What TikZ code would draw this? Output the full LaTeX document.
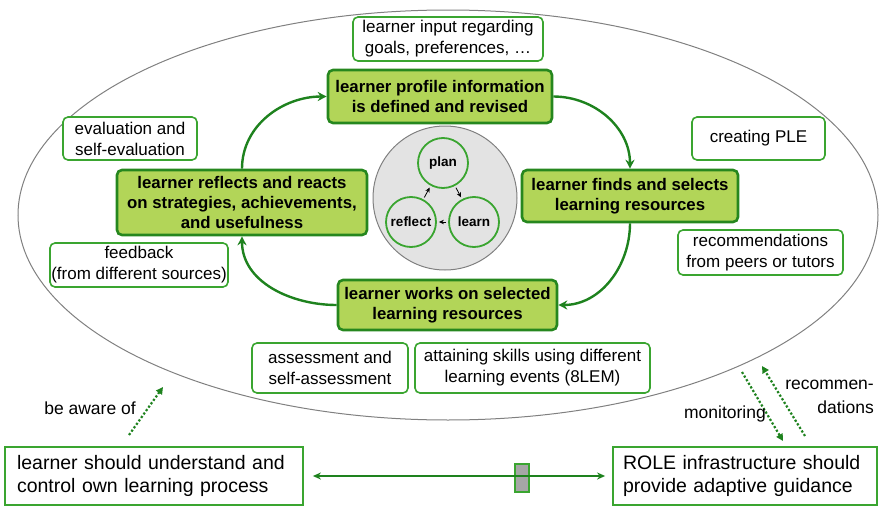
\documentclass[tikz,border=0pt]{standalone}
\usepackage{fontspec}
\setmainfont{Liberation Sans}
\usetikzlibrary{arrows.meta}
\definecolor{dgreen}{RGB}{38,135,30}
\definecolor{lgreen}{RGB}{178,213,88}
\definecolor{mgreen}{RGB}{58,165,48}
\definecolor{agreen}{RGB}{30,130,30}
\tikzset{
  bigbox/.style={draw=dgreen, line width=2.6pt, fill=lgreen, rounded corners=5pt, align=center, inner sep=0pt, font=\bfseries\fontsize{16.8}{20}\selectfont},
  smallbox/.style={draw=mgreen, line width=1.6pt, fill=white, rounded corners=5pt, align=center, inner sep=0pt, font=\fontsize{17}{21}\selectfont},
  sqbox/.style={draw=mgreen, line width=1.8pt, fill=white, align=left, inner sep=0pt, font=\fontsize{19.5}{23.5}\selectfont},
  cyc/.style={draw=mgreen, line width=1.8pt, circle, minimum size=50pt, inner sep=0pt, font=\bfseries\fontsize{13.5}{15}\selectfont},
  cycarrow/.style={draw=agreen, line width=2.4pt, -{Stealth[length=9pt,width=9pt]}},
  dotarrow/.style={draw=agreen, line width=2.2pt, dotted, -{Triangle[length=7pt,width=7pt]}},
  lbl/.style={font=\fontsize{17.5}{26}\selectfont, inner sep=0pt},
}
\begin{document}
\begin{tikzpicture}[x=1pt,y=-1pt]
\useasboundingbox (0,0) rectangle (879,506);
% big ellipse
\draw[gray, line width=1pt] (448,215) ellipse [x radius=430pt, y radius=205pt];
% central circle
\node[circle, draw=gray, fill=gray!22, line width=1pt, minimum size=144pt, inner sep=0pt] (core) at (445,198) {};
\node[cyc] (plan) at (443,163) {plan};
\node[cyc] (learn) at (474,222) {learn};
\node[cyc] (reflect) at (411,222) {reflect};
\draw[-{Stealth[length=5pt,width=4.5pt]}, line width=0.8pt, shorten <=2pt, shorten >=2pt] (plan) -- (learn);
\draw[-{Stealth[length=5pt,width=4.5pt]}, line width=0.8pt, shorten <=2pt, shorten >=2pt] (learn) -- (reflect);
\draw[-{Stealth[length=5pt,width=4.5pt]}, line width=0.8pt, shorten <=2pt, shorten >=2pt] (reflect) -- (plan);
% main boxes
\node[bigbox, minimum width=224pt, minimum height=53pt] (profile) at (440,96.5) {learner profile information\\is defined and revised};
\node[bigbox, minimum width=216pt, minimum height=52pt] (finds) at (630,196) {learner finds and selects\\learning resources};
\node[bigbox, minimum width=219pt, minimum height=50pt] (works) at (447.5,305) {learner works on selected\\learning resources};
\node[bigbox, minimum width=250pt, minimum height=65pt] (reflects) at (242,202.5) {learner reflects and reacts\\on strategies, achievements,\\and usefulness};
% cycle arrows
\draw[cycarrow] (reflects.north) to[out=90, in=180] (profile.west);
\draw[cycarrow] (profile.east) to[out=0, in=90] (finds.north);
\draw[cycarrow] (finds.south) to[out=-90, in=0] (works.east);
\draw[cycarrow] (works.west) to[out=180, in=-90] (reflects.south);
% small boxes
\node[smallbox, minimum width=190pt, minimum height=44pt] (input) at (448,39) {learner input regarding\\goals, preferences, \ldots};
\node[smallbox, minimum width=134pt, minimum height=43pt] (evalb) at (130,138.5) {evaluation and\\self-evaluation};
\node[smallbox, minimum width=178pt, minimum height=44pt] (feedb) at (139,265) {feedback\\(from different sources)};
\node[smallbox, minimum width=133pt, minimum height=43pt] (ple) at (758.5,138.5) {creating PLE};
\node[smallbox, minimum width=165pt, minimum height=45pt] (recb) at (760.5,252.5) {recommendations\\from peers or tutors};
\node[smallbox, minimum width=156pt, minimum height=50pt] (assess) at (330,368) {assessment and\\self-assessment};
\node[smallbox, minimum width=235pt, minimum height=50pt] (attain) at (532.5,368) {attaining skills using different\\learning events (8LEM)};
% bottom boxes
\node[sqbox, minimum width=298pt, minimum height=58pt, text width=274pt] (learnerbox) at (154,476) {learner should understand and\\control own learning process};
\node[sqbox, minimum width=264pt, minimum height=58pt, text width=244pt] (rolebox) at (745,476) {ROLE infrastructure should\\provide adaptive guidance};
\node[draw=mgreen, fill=gray!70, line width=1.5pt, minimum width=14pt, minimum height=28pt, inner sep=0pt] (slider) at (522,478) {};
\draw[draw=agreen, line width=1.6pt, {Stealth[length=8pt,width=7pt]}-{Stealth[length=8pt,width=7pt]}, shorten <=9pt, shorten >=7pt] (learnerbox.east) -- (rolebox.west);
% dotted arrows
\coordinate (aw1) at (129,435);
\coordinate (aw2) at (163,387);
\draw[dotarrow] (aw1) -- (aw2);
\node[lbl] (awl) at (90,408) {be aware of};
\coordinate (mo1) at (742,372);
\coordinate (mo2) at (783,441);
\draw[dotarrow] (mo1) -- (mo2);
\coordinate (re1) at (805,436);
\coordinate (re2) at (762,366);
\draw[dotarrow] (re1) -- (re2);
\node[lbl, anchor=east] (mol) at (766,414) {monitoring};
\node[lbl, anchor=east, align=right, font=\fontsize{17.5}{24}\selectfont] (rel) at (874,397) {recommen-\\dations};
\end{tikzpicture}
\end{document}
